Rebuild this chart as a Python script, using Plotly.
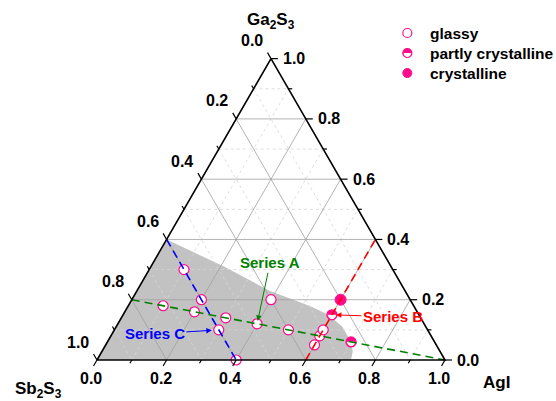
import math
import plotly.graph_objects as go

# ---------------- data (fractions: Ga2S3, Sb2S3, AgI) ----------------
glassy_ga  = [0.30, 0.20, 0.10, 0.00, 0.18, 0.16, 0.14, 0.12, 0.10, 0.08, 0.05, 0.10, 0.20]
glassy_sb  = [0.60, 0.60, 0.60, 0.60, 0.72, 0.64, 0.56, 0.48, 0.40, 0.32, 0.35, 0.30, 0.40]
glassy_agi = [0.10, 0.20, 0.30, 0.40, 0.10, 0.20, 0.30, 0.40, 0.50, 0.60, 0.60, 0.60, 0.40]

partly_ga  = [0.15, 0.06]
partly_sb  = [0.25, 0.24]
partly_agi = [0.60, 0.70]

cryst_ga  = [0.20]
cryst_sb  = [0.20]
cryst_agi = [0.60]

seriesA_ga, seriesA_sb, seriesA_agi = [0.20, 0.00], [0.80, 0.00], [0.00, 1.00]
seriesB_ga, seriesB_sb, seriesB_agi = [0.00, 0.40], [0.40, 0.00], [0.60, 0.60]
seriesC_ga, seriesC_sb, seriesC_agi = [0.40, 0.00], [0.60, 0.60], [0.00, 0.40]

region_ga  = [0.40, 0.31, 0.23, 0.18, 0.15, 0.11, 0.07, 0.03, 0.00, 0.00]
region_sb  = [0.60, 0.48, 0.39, 0.30, 0.26, 0.24, 0.24, 0.25, 0.27, 1.00]
region_agi = [0.00, 0.21, 0.38, 0.52, 0.59, 0.65, 0.69, 0.72, 0.73, 0.00]

major_ticks = [0.0, 0.2, 0.4, 0.6, 0.8, 1.0]
minor_ticks = [0.1, 0.3, 0.5, 0.7, 0.9]

legend_items = ["crystalline", "partly crystalline", "glassy"]

# ---------------- helpers ----------------
S3 = math.sqrt(3) / 2


def tx(ga, agi):
    return agi + ga * 0.5


def ty(ga):
    return ga * S3


def xs(ga, agi):
    return [tx(g, a) for g, a in zip(ga, agi)]


def ys(ga):
    return [ty(g) for g in ga]


PINK = "#FF0A8C"
FONT = "Liberation Sans, Arial, sans-serif"

fig = go.Figure()

# glass-forming region
fig.add_trace(go.Scatter(x=xs(region_ga, region_agi) + [tx(region_ga[0], region_agi[0])],
                         y=ys(region_ga) + [ty(region_ga[0])],
                         mode="lines", fill="toself", fillcolor="#C2C2C2",
                         line=dict(width=0), hoverinfo="skip"))


def grid_path(vals):
    gx, gy = [], []
    for v in vals:
        # constant Ga2S3
        gx += [tx(v, 0), tx(v, 1 - v), None]; gy += [ty(v), ty(v), None]
        # constant Sb2S3 : from left edge to bottom edge
        gx += [tx(1 - v, 0), tx(0, 1 - v), None]; gy += [ty(1 - v), ty(0), None]
        # constant AgI : from bottom edge to right edge
        gx += [tx(0, v), tx(1 - v, v), None]; gy += [ty(0), ty(1 - v), None]
    return gx, gy


mx, my = grid_path(minor_ticks)
fig.add_trace(go.Scatter(x=mx, y=my, mode="lines",
                         line=dict(color="#D6D6D6", width=0.8, dash="dot"), hoverinfo="skip"))
gx, gy = grid_path(major_ticks[1:-1])
fig.add_trace(go.Scatter(x=gx, y=gy, mode="lines",
                         line=dict(color="#A0A0A0", width=0.8), hoverinfo="skip"))

# data points
fig.add_trace(go.Scatter(x=xs(glassy_ga, glassy_agi), y=ys(glassy_ga), mode="markers",
                         marker=dict(size=10, color="white", line=dict(color=PINK, width=1.2)),
                         hoverinfo="skip"))
fig.add_trace(go.Scatter(x=xs(partly_ga, partly_agi), y=ys(partly_ga), mode="markers",
                         marker=dict(size=10, color="white", line=dict(color=PINK, width=1.2)),
                         hoverinfo="skip"))
fig.add_trace(go.Scatter(x=xs(partly_ga, partly_agi), y=ys(partly_ga), mode="text",
                         text=["\u25D3"] * len(partly_ga), textposition="middle center",
                         textfont=dict(family="DejaVu Sans", size=13, color=PINK),
                         hoverinfo="skip"))
fig.add_trace(go.Scatter(x=xs(cryst_ga, cryst_agi), y=ys(cryst_ga), mode="markers",
                         marker=dict(size=11, color=PINK, line=dict(color=PINK, width=1)),
                         hoverinfo="skip"))

# series lines
for ga, agi, col in [(seriesA_ga, seriesA_agi, "#008000"),
                     (seriesB_ga, seriesB_agi, "#FF0000"),
                     (seriesC_ga, seriesC_agi, "#0000FF")]:
    fig.add_trace(go.Scatter(x=xs(ga, agi), y=ys(ga), mode="lines",
                             line=dict(color=col, width=1.6, dash="8px,5px"), hoverinfo="skip"))

# triangle frame
fig.add_trace(go.Scatter(x=[tx(0, 0), tx(0, 1), tx(1, 0), tx(0, 0)],
                         y=[ty(0), ty(0), ty(1), ty(0)], mode="lines",
                         line=dict(color="black", width=1.6), hoverinfo="skip"))

# ticks (extensions of grid lines outward)
kx, ky = [], []
for vals, L in [(major_ticks, 0.020), (minor_ticks, 0.011)]:
    for v in vals:
        # left edge (Sb2S3), outward up-left
        x0, y0 = tx(1 - v, 0), ty(1 - v)
        kx += [x0, x0 - 0.5 * L, None]; ky += [y0, y0 + S3 * L, None]
        # bottom edge (AgI), outward down-left
        x0, y0 = tx(0, v), ty(0)
        kx += [x0, x0 - 0.5 * L, None]; ky += [y0, y0 - S3 * L, None]
        # right edge (Ga2S3), outward right
        x0, y0 = tx(v, 1 - v), ty(v)
        kx += [x0, x0 + L, None]; ky += [y0, y0, None]
fig.add_trace(go.Scatter(x=kx, y=ky, mode="lines", line=dict(color="black", width=1.2),
                         hoverinfo="skip"))

annotations = []
lab_font = dict(family=FONT, size=16, color="black", weight="bold")
for v in major_ticks:
    t = f"{v:.1f}"
    annotations.append(dict(x=tx(1 - v, 0), y=ty(1 - v), text=t, showarrow=False,
                            xanchor="right", yanchor="middle", xshift=-6, yshift=18, font=lab_font))
    annotations.append(dict(x=tx(0, v), y=ty(0), text=t, showarrow=False,
                            xanchor="center", yanchor="middle", xshift=-6, yshift=-18, font=lab_font))
    annotations.append(dict(x=tx(v, 1 - v), y=ty(v), text=t, showarrow=False,
                            xanchor="left", yanchor="middle", xshift=10, yshift=0, font=lab_font))

title_font = dict(family=FONT, size=17, color="black", weight="bold")
annotations.append(dict(x=tx(1, 0), y=ty(1), text="Ga<sub>2</sub>S<sub>3</sub>", showarrow=False,
                        xanchor="center", yanchor="middle", yshift=38, font=title_font))
annotations.append(dict(x=tx(0, 0), y=ty(0), text="Sb<sub>2</sub>S<sub>3</sub>", showarrow=False,
                        xanchor="center", yanchor="middle", xshift=-59, yshift=-30, font=title_font))
annotations.append(dict(x=tx(0, 1), y=ty(0), text="AgI", showarrow=False,
                        xanchor="center", yanchor="middle", xshift=51, yshift=-22, font=title_font))

# series labels with arrows: (label, target Ga2S3, target AgI, colour, label offset px, standoff)
ser_font = dict(family=FONT, size=15, weight="bold")
series_labels = [
    ("Series A", 0.12, 0.40, "#008000", (13, -61), 3),
    ("Series B", 0.15, 0.60, "#FF0000", (61, 2), 4),
    ("Series C", 0.10, 0.30, "#0000FF", (-64, 4), 7),
]
for name, ga, agi, col, (ax, ay), so in series_labels:
    annotations.append(dict(x=tx(ga, agi), y=ty(ga), text=name, showarrow=True, ax=ax, ay=ay,
                            arrowcolor=col, arrowwidth=1, arrowhead=2, arrowsize=1.1,
                            standoff=so, font=dict(ser_font, color=col)))

# legend (separate small categorical subplot)
leg_font = dict(family=FONT, size=15.5, color="black", weight="bold")
fig.add_trace(go.Scatter(x=[0], y=["glassy"], xaxis="x2", yaxis="y2", mode="markers",
                         marker=dict(size=9, color="white", line=dict(color=PINK, width=1.2))))
fig.add_trace(go.Scatter(x=[0], y=["partly crystalline"], xaxis="x2", yaxis="y2", mode="markers",
                         marker=dict(size=9, color="white", line=dict(color=PINK, width=1.2))))
fig.add_trace(go.Scatter(x=[0], y=["partly crystalline"], xaxis="x2", yaxis="y2", mode="text",
                         text=["\u25D3"], textposition="middle center",
                         textfont=dict(family="DejaVu Sans", size=12, color=PINK)))
fig.add_trace(go.Scatter(x=[0], y=["crystalline"], xaxis="x2", yaxis="y2", mode="markers",
                         marker=dict(size=9, color=PINK, line=dict(color=PINK, width=1))))
for item in legend_items:
    annotations.append(dict(x=0, y=item, xref="x2", yref="y2", text=item, showarrow=False,
                            xanchor="left", yanchor="middle", xshift=21, font=leg_font))

W, H = 556, 401
SCALE = 348.0          # pixels per composition unit
ORIGIN = (97.0, 360.0)  # pixel position of the Sb2S3 corner
fig.update_layout(
    width=W, height=H, margin=dict(l=0, r=0, t=0, b=0, pad=0),
    paper_bgcolor="white", plot_bgcolor="rgba(0,0,0,0)", showlegend=False,
    xaxis=dict(visible=False, range=[-ORIGIN[0] / SCALE, (W - ORIGIN[0]) / SCALE],
               domain=[0, 1], fixedrange=True),
    yaxis=dict(visible=False, range=[-(H - ORIGIN[1]) / SCALE, ORIGIN[1] / SCALE],
               domain=[0, 1], fixedrange=True),
    xaxis2=dict(visible=False, domain=[0.72, 1.0], range=[-0.5, 10.6], anchor="y2"),
    yaxis2=dict(visible=False, domain=[0.793, 0.9426], range=[-0.5, 2.5], anchor="x2",
                type="category", categoryorder="array", categoryarray=legend_items),
    annotations=annotations,
)

fig.write_html("out.html")
